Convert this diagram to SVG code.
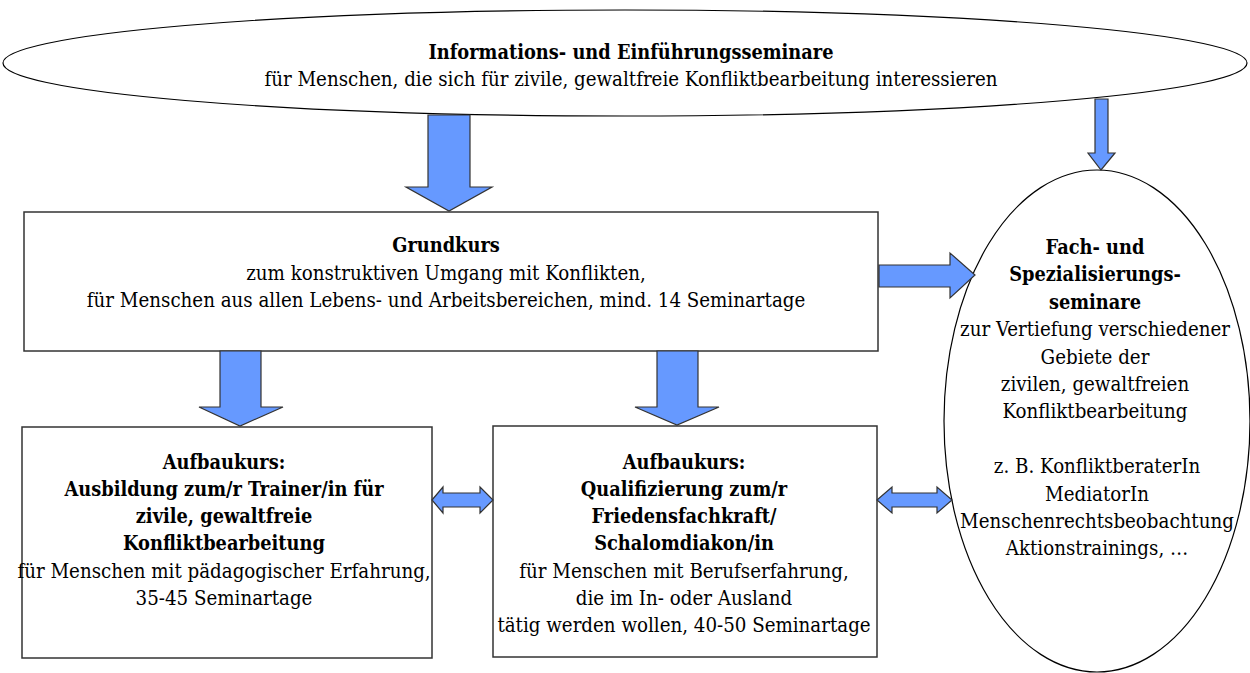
<svg xmlns="http://www.w3.org/2000/svg" width="1250" height="673" viewBox="0 0 1250 673">
<style>
.bg{fill:#ffffff}
.shape{fill:#ffffff;stroke:#000000;stroke-width:1.2}
.box{fill:#ffffff;stroke:#333333;stroke-width:1.5}
.arr{fill:#6699ff;stroke:#333333;stroke-width:1.2;stroke-linejoin:miter}
.t{font-family:'DejaVu Serif Condensed','DejaVu Serif',serif;font-stretch:condensed;font-size:20.3px;fill:#000000;text-anchor:middle}
.b{font-weight:bold;font-size:19.8px}
</style>
<rect class="bg" x="0" y="0" width="1250" height="673"/>
<g id="node-info">
<ellipse class="shape" cx="625" cy="63" rx="622" ry="53"/>
<text class="t b" x="631" y="59">Informations- und Einführungsseminare</text>
<text class="t" x="631" y="86">für Menschen, die sich für zivile, gewaltfreie Konfliktbearbeitung interessieren</text>
</g>
<g id="node-grundkurs">
<rect class="box" x="24" y="212" width="854" height="139"/>
<text class="t b" x="446" y="252">Grundkurs</text>
<text class="t" x="446" y="279.5">zum konstruktiven Umgang mit Konflikten,</text>
<text class="t" x="446" y="307">für Menschen aus allen Lebens- und Arbeitsbereichen, mind. 14 Seminartage</text>
</g>
<g id="node-fach">
<ellipse class="shape" cx="1097" cy="421" rx="153" ry="251"/>
<text class="t b" x="1095" y="254">Fach- und</text>
<text class="t b" x="1095" y="281.4">Spezialisierungs-</text>
<text class="t b" x="1095" y="308.8">seminare</text>
<text class="t" x="1095" y="336.2">zur Vertiefung verschiedener</text>
<text class="t" x="1095" y="363.6">Gebiete der</text>
<text class="t" x="1095" y="391">zivilen, gewaltfreien</text>
<text class="t" x="1095" y="418.4">Konfliktbearbeitung</text>
<text class="t" x="1097" y="473.2">z. B. KonfliktberaterIn</text>
<text class="t" x="1097" y="500.6">MediatorIn</text>
<text class="t" x="1097" y="528">Menschenrechtsbeobachtung</text>
<text class="t" x="1097" y="555.4">Aktionstrainings, …</text>
</g>
<g id="node-trainer">
<rect class="box" x="22" y="427" width="410" height="231"/>
<text class="t b" x="224" y="468.5">Aufbaukurs:</text>
<text class="t b" x="224" y="495.8">Ausbildung zum/r Trainer/in für</text>
<text class="t b" x="224" y="523.1">zivile, gewaltfreie</text>
<text class="t b" x="224" y="550.4">Konfliktbearbeitung</text>
<text class="t" x="224" y="577.7">für Menschen mit pädagogischer Erfahrung,</text>
<text class="t" x="224" y="605">35-45 Seminartage</text>
</g>
<g id="node-friedensfachkraft">
<rect class="box" x="493" y="426" width="384" height="231"/>
<text class="t b" x="684" y="468.5">Aufbaukurs:</text>
<text class="t b" x="684" y="495.8">Qualifizierung zum/r</text>
<text class="t b" x="684" y="523.1">Friedensfachkraft/</text>
<text class="t b" x="684" y="550.4">Schalomdiakon/in</text>
<text class="t" x="684" y="577.7">für Menschen mit Berufserfahrung,</text>
<text class="t" x="684" y="605">die im In- oder Ausland</text>
<text class="t" x="684" y="632.3">tätig werden wollen, 40-50 Seminartage</text>
</g>
<g id="connectors">
<polygon class="arr" points="428,115 470,115 470,187 492,187 449,211 406,187 428,187"/>
<polygon class="arr" points="1095,99 1108,99 1108,153 1115,153 1101,170 1088,153 1095,153"/>
<polygon class="arr" points="220,351 261,351 261,407 283,407 240,426 199,407 220,407"/>
<polygon class="arr" points="657,351 698,351 698,407 719,407 677,425 635,407 657,407"/>
<polygon class="arr" points="879,265 950,265 950,253 975,275 950,298 950,287 879,287"/>
<polygon class="arr" points="432,500 443,487 443,493 480,493 480,487 493,500 480,513 480,507 443,507 443,513"/>
<polygon class="arr" points="877,500 892,487 892,493 937,493 937,487 952,500 937,513 937,507 892,507 892,513"/>
</g>
</svg>
